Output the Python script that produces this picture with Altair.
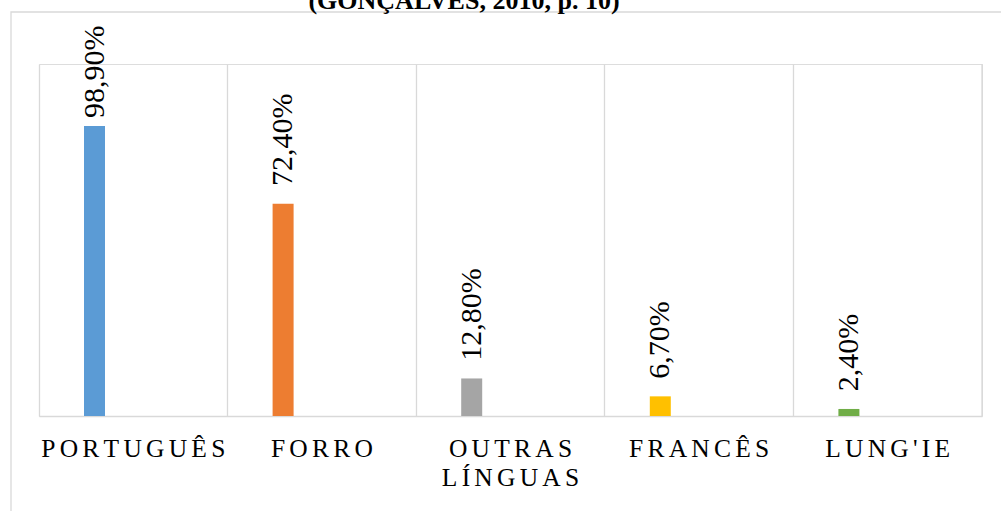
import altair as alt
import pandas as pd

categories = ["PORTUGUÊS", "FORRO", "OUTRAS LÍNGUAS", "FRANCÊS", "LUNG'IE"]
values = [98.9, 72.4, 12.8, 6.7, 2.4]
labels = ["98,90%", "72,40%", "12,80%", "6,70%", "2,40%"]
colors = ["#5b9bd5", "#ed7d31", "#a5a5a5", "#ffc000", "#70ad47"]
title_text = "(GONÇALVES, 2010, p. 10)"

df = pd.DataFrame({"cat": categories, "v": values, "lab": labels, "col": colors})

W, H = 943, 352
GRID = "#d9d9d9"
FONT = "Liberation Serif"

x = alt.X(
    "cat:N",
    sort=categories,
    scale=alt.Scale(paddingInner=0, paddingOuter=0),
    axis=alt.Axis(
        title=None,
        labelAngle=0,
        labelFont=FONT,
        labelFontSize=25.5,
        labelColor="#000000",
        labelPadding=20,
        labelLineHeight=29,
        labelLimit=400,
        labelExpr="split(replace(datum.label, regexp('(\\\\S)(?=\\\\S)', 'g'), '$1\u2006'), ' ')",
        ticks=False,
        tickSize=0,
        domain=True,
        domainColor=GRID,
        domainWidth=1.3,
        grid=True,
        gridColor=GRID,
        gridWidth=1.3,
        bandPosition=0,
    ),
)
y_scale = alt.Scale(domain=[0, 120], nice=False)

base = alt.Chart(df)

bars = base.mark_bar(width=21, xOffset=-38.8).encode(
    x=x,
    y=alt.Y("v:Q", scale=y_scale, axis=None),
    color=alt.Color("col:N", scale=None, legend=None),
)

text = base.transform_calculate(
    pos="min(datum.v + 6.0, 101.6)"
).mark_text(
    angle=270, align="left", baseline="middle", font=FONT, fontSize=30,
    color="#000000", xOffset=-38.8, dx=0,
).encode(
    x=alt.X("cat:N", sort=categories),
    y=alt.Y("pos:Q", scale=y_scale),
    text="lab:N",
)

right_rule = alt.Chart(pd.DataFrame({"a": [0]})).mark_rule(color=GRID, strokeWidth=1.3).encode(
    x=alt.value(W), y=alt.value(0), y2=alt.value(H)
)

frame = alt.Chart(pd.DataFrame({"a": [0]})).mark_rect(
    fill=None, stroke=GRID, strokeWidth=1.3
).encode(
    x=alt.value(-28), x2=alt.value(1200), y=alt.value(-52), y2=alt.value(800)
)

title = alt.Chart(pd.DataFrame({"t": [title_text]})).mark_text(
    font=FONT, fontSize=26, fontWeight="bold", color="#000000",
    align="center", baseline="alphabetic",
).encode(
    x=alt.value(425), y=alt.value(-55), text="t:N"
)

chart = alt.layer(frame, right_rule, bars, text, title).properties(
    width=W,
    height=H,
    autosize=alt.AutoSizeParams(type="none"),
    padding={"left": 39, "top": 64, "right": 19, "bottom": 95},
).configure_view(stroke=None).configure(background="#ffffff")

chart.save("out.html", embed_options={"renderer": "svg", "actions": False})
